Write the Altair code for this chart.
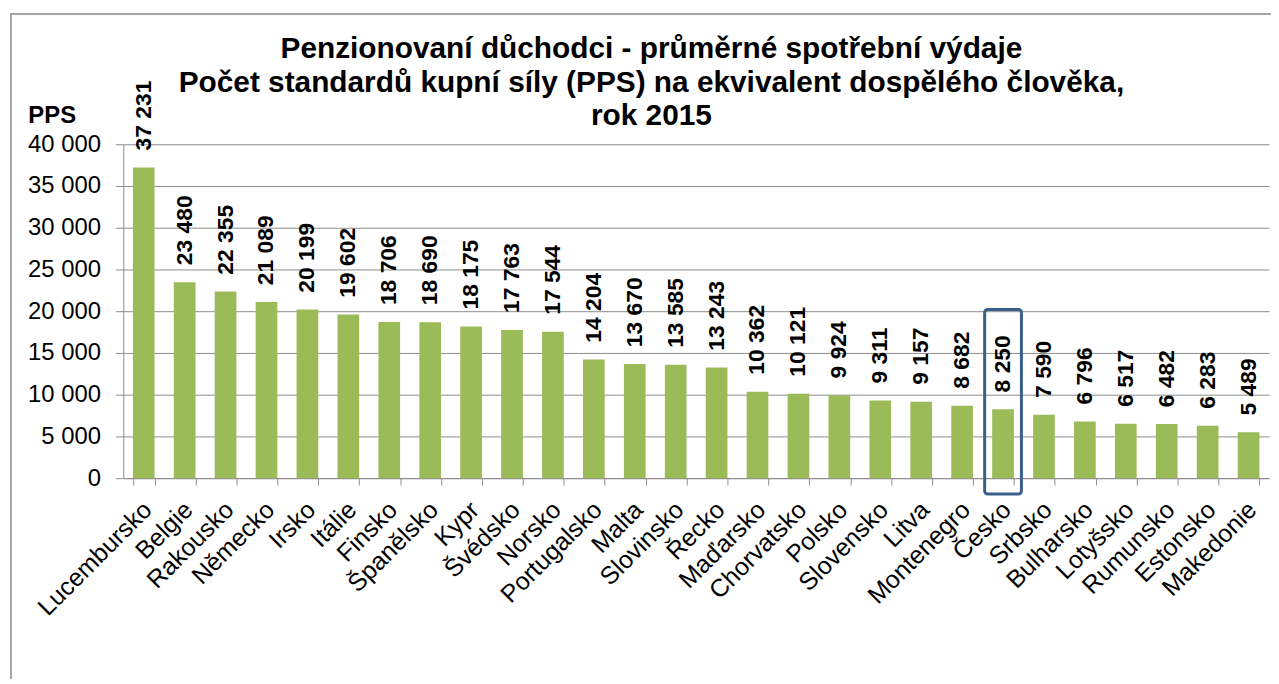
import altair as alt
import pandas as pd

countries = ["Lucembursko", "Belgie", "Rakousko", "Německo", "Irsko", "Itálie", "Finsko",
             "Španělsko", "Kypr", "Švédsko", "Norsko", "Portugalsko", "Malta", "Slovinsko",
             "Řecko", "Maďarsko", "Chorvatsko", "Polsko", "Slovensko", "Litva", "Montenegro",
             "Česko", "Srbsko", "Bulharsko", "Lotyšsko", "Rumunsko", "Estonsko", "Makedonie"]
values = [37231, 23480, 22355, 21089, 20199, 19602, 18706, 18690, 18175, 17763, 17544,
          14204, 13670, 13585, 13243, 10362, 10121, 9924, 9311, 9157, 8682, 8250, 7590,
          6796, 6517, 6482, 6283, 5489]
highlight = ["Česko"]
y_ticks = [0, 5000, 10000, 15000, 20000, 25000, 30000, 35000, 40000]
title_lines = ["Penzionovaní důchodci - průměrné spotřební výdaje",
               "Počet standardů kupní síly (PPS) na ekvivalent dospělého člověka,",
               "rok 2015"]
y_title = "PPS"

FONT = "Liberation Sans"
GRID = "#8C8C8C"

df = pd.DataFrame({"country": countries, "value": values})
df["label"] = df["value"].map(lambda v: f"{v:,}".replace(",", " "))

x_enc = alt.X("country:N", sort=countries,
              scale=alt.Scale(paddingInner=0.47, paddingOuter=0.235),
              axis=alt.Axis(title=None, labelAngle=315, labelAlign="right", labelBaseline="top",
                            labelFontSize=25, labelFont=FONT, labelColor="black", labelPadding=12,
                            labelOffset=-5,
                            tickBand="extent", tickSize=7, tickColor=GRID, domainColor=GRID,
                            labelOverlap=False, grid=False))
y_enc = alt.Y("value:Q", scale=alt.Scale(domain=[0, 40000], nice=False),
              axis=alt.Axis(values=y_ticks, title=y_title, titleAngle=0, titleAlign="left",
                            titleBaseline="alphabetic", titleX=-96, titleY=-22,
                            titleFontSize=24, titleFont=FONT, titleFontWeight="bold",
                            titleColor="black",
                            labelExpr="replace(format(datum.value, ','), /,/g, ' ')",
                            labelFontSize=24, labelFont=FONT, labelColor="black", labelPadding=15,
                            tickSize=8, tickColor=GRID, domainColor=GRID, gridColor=GRID,
                            grid=True))

frame = alt.Chart(pd.DataFrame({"f": [0]})).mark_rect(
    fillOpacity=0, stroke="#A6A6A6", strokeWidth=2, clip=False
).encode(x=alt.value(-113), x2=alt.value(1250), y=alt.value(-131), y2=alt.value(700))

bars = alt.Chart(df).mark_bar(color="#9BBB59").encode(x=x_enc, y=y_enc)

labels = alt.Chart(df).mark_text(
    angle=270, align="left", baseline="middle", dx=17, fontSize=23,
    fontWeight="bold", font=FONT, color="black"
).encode(x=alt.X("country:N", sort=countries), y="value:Q", text="label:N")

hl = pd.DataFrame({"country": highlight, "top": [20200], "bottom": [-1900]})
box = alt.Chart(hl).mark_bar(
    width=37, fillOpacity=0, stroke="#3A5F8B", strokeWidth=3, cornerRadius=3, clip=False
).encode(x=alt.X("country:N", sort=countries), y="top:Q", y2="bottom:Q")

chart = alt.layer(frame, bars, labels, box).properties(
    width=1153, height=336,
    padding={"left": 116, "top": 135, "right": 2, "bottom": 200},
    autosize=alt.AutoSizeParams(type="none"),
    title=alt.TitleParams(text=title_lines, fontSize=30, font=FONT, fontWeight="bold",
                          anchor="middle", dx=-45, offset=-119, lineHeight=34, color="black"),
).configure_view(stroke=None)

chart.save("out.html", embed_options={"renderer": "svg", "actions": False})
